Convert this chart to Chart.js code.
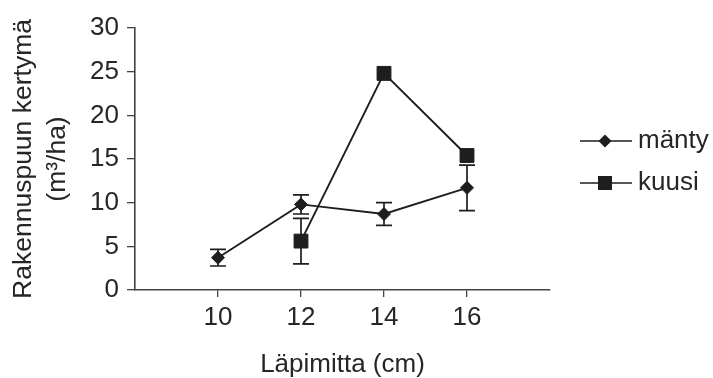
<!DOCTYPE html>
<html>
<head>
<meta charset="utf-8">
<script src="https://cdn.jsdelivr.net/npm/chart.js@4.4.1/dist/chart.umd.min.js"></script>
<style>
  html, body { margin: 0; padding: 0; background: #fff; }
</style>
</head>
<body>
<canvas id="chart" width="713" height="378"></canvas>
<script>
// data
const xTicks = [10, 12, 14, 16];
const mantyDiam = [10, 12, 14, 16];
const mantyValues = [3.7, 9.8, 8.7, 11.7];
const mantyErrors = [0.95, 1.1, 1.3, 2.6];
const kuusiDiam = [12, 14, 16];
const kuusiValues = [5.6, 24.8, 15.4];
const kuusiErrors = [2.6, 0, 0];

const ink = '#1e1e1e';
const textInk = '#262626';
const fontFamily = '"Liberation Sans", Arial, Helvetica, sans-serif';

const toPoints = (xs, ys) => xs.map((x, i) => ({ x: x, y: ys[i] }));

// error bars, drawn under the markers
const errorBars = {
    id: 'errorBars',
    beforeDatasetsDraw(chart) {
        const { ctx, scales: { x, y } } = chart;
        ctx.save();
        ctx.strokeStyle = ink;
        ctx.lineWidth = 1.7;
        chart.data.datasets.forEach(ds => {
            ds.errors.forEach((e, i) => {
                if (!e) return;
                const p = ds.data[i];
                const px = x.getPixelForValue(p.x);
                const top = y.getPixelForValue(p.y + e);
                const bot = y.getPixelForValue(p.y - e);
                ctx.beginPath();
                ctx.moveTo(px, top); ctx.lineTo(px, bot);
                ctx.moveTo(px - 8, top); ctx.lineTo(px + 8, top);
                ctx.moveTo(px - 8, bot); ctx.lineTo(px + 8, bot);
                ctx.stroke();
            });
        });
        ctx.restore();
    }
};

// legend on the right: line sample with marker in the middle
const sideLegend = {
    id: 'sideLegend',
    afterDraw(chart) {
        const ctx = chart.ctx;
        const rows = [141, 183];
        ctx.save();
        chart.data.datasets.forEach((ds, i) => {
            const yy = rows[i];
            ctx.strokeStyle = ink;
            ctx.lineWidth = 1.7;
            ctx.beginPath();
            ctx.moveTo(580, yy); ctx.lineTo(632, yy);
            ctx.stroke();
            ctx.fillStyle = ink;
            ctx.beginPath();
            if (ds.pointStyle === 'rectRot') {
                const r = 6.5;
                ctx.moveTo(605 - r, yy); ctx.lineTo(605, yy - r);
                ctx.lineTo(605 + r, yy); ctx.lineTo(605, yy + r);
                ctx.closePath();
            } else {
                ctx.rect(605 - 7, yy - 7, 14, 14);
            }
            ctx.fill();
            ctx.fillStyle = textInk;
            ctx.font = '26px ' + fontFamily;
            ctx.textBaseline = 'middle';
            ctx.textAlign = 'left';
            ctx.fillText(ds.label, 638, yy);
        });
        ctx.restore();
    }
};

new Chart(document.getElementById('chart'), {
    type: 'line',
    data: {
        datasets: [{
            label: 'mänty',
            data: toPoints(mantyDiam, mantyValues),
            errors: mantyErrors,
            borderColor: ink,
            borderWidth: 1.9,
            pointStyle: 'rectRot',
            pointRadius: 6.5,
            pointBackgroundColor: ink,
            pointBorderColor: ink,
            pointBorderWidth: 1,
            tension: 0
        }, {
            label: 'kuusi',
            data: toPoints(kuusiDiam, kuusiValues),
            errors: kuusiErrors,
            borderColor: ink,
            borderWidth: 1.9,
            pointStyle: 'rect',
            pointRadius: 9.8,
            pointBackgroundColor: ink,
            pointBorderColor: ink,
            pointBorderWidth: 1,
            tension: 0
        }]
    },
    options: {
        responsive: false,
        animation: false,
        layout: { padding: { left: 0, right: 163, top: 28, bottom: 0 } },
        plugins: {
            legend: { display: false },
            tooltip: { enabled: false }
        },
        scales: {
            x: {
                type: 'linear',
                min: 8,
                max: 18,
                afterBuildTicks: scale => { scale.ticks = xTicks.map(v => ({ value: v })); },
                afterFit: scale => { scale.height = 88; },
                grid: { drawOnChartArea: false, drawTicks: true, tickLength: 7, color: '#444', lineWidth: 1.3 },
                border: { display: true, color: '#444', width: 1.6 },
                ticks: { color: textInk, padding: 5, font: { family: fontFamily, size: 26 } },
                title: {
                    display: true,
                    text: 'Läpimitta (cm)',
                    color: textInk,
                    padding: { top: 0, bottom: 0 },
                    font: { family: fontFamily, size: 26, lineHeight: 1.0 }
                }
            },
            y: {
                min: 0,
                max: 30,
                afterFit: scale => { scale.width = 135; },
                grid: { drawOnChartArea: false, drawTicks: true, tickLength: 8, color: '#444', lineWidth: 1.3 },
                border: { display: true, color: '#444', width: 1.6 },
                ticks: { stepSize: 5, color: textInk, padding: 8, font: { family: fontFamily, size: 26 } },
                title: {
                    display: true,
                    text: ['Rakennuspuun kertymä', '(m³/ha)'],
                    color: textInk,
                    padding: { top: 6, bottom: 0 },
                    font: { family: fontFamily, size: 26.5, lineHeight: 1.3 }
                }
            }
        }
    },
    plugins: [errorBars, sideLegend]
});
</script>
</body>
</html>
